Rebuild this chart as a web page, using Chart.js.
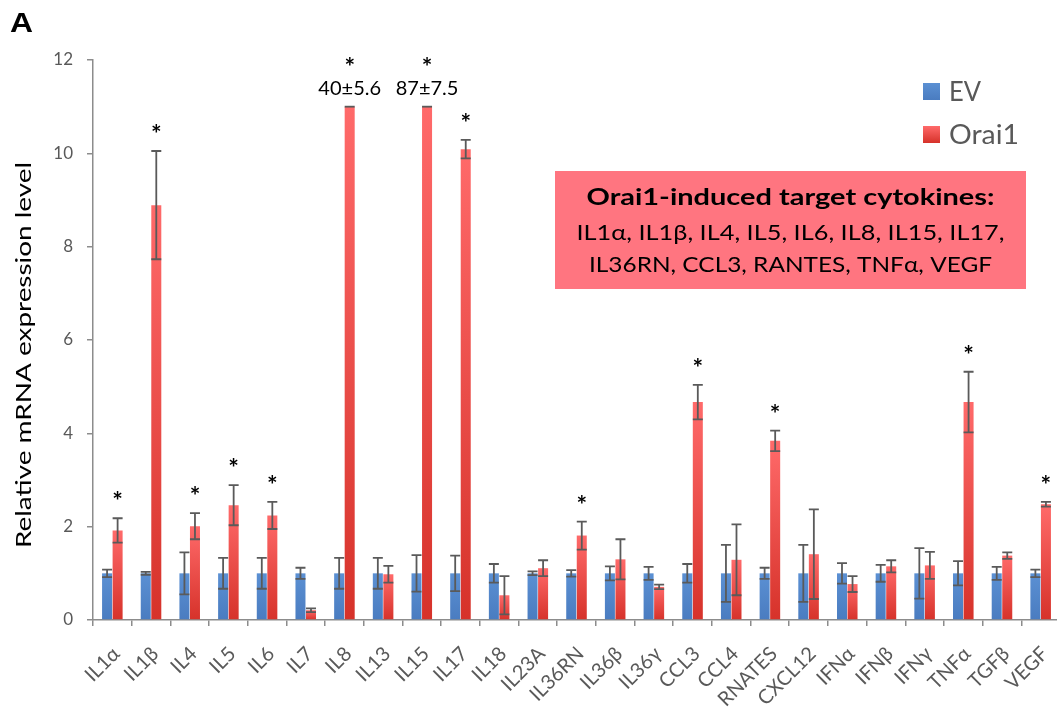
<!DOCTYPE html>
<html>
<head>
<meta charset="utf-8">
<script src="https://cdn.jsdelivr.net/npm/chart.js@4.4.1/dist/chart.umd.min.js"></script>
<style>
  html, body { margin: 0; padding: 0; background: #ffffff; overflow: hidden; }
  #wrap { position: relative; width: 1060px; height: 708px; }
</style>
</head>
<body>
<div id="wrap"><canvas id="chart" width="1060" height="708"></canvas></div>
<script>
// Cytokine panel
const categories = ['IL1α', 'IL1β', 'IL4', 'IL5', 'IL6', 'IL7', 'IL8', 'IL13', 'IL15', 'IL17',
  'IL18', 'IL23A', 'IL36RN', 'IL36β', 'IL36γ', 'CCL3', 'CCL4', 'RNATES', 'CXCL12',
  'IFNα', 'IFNβ', 'IFNγ', 'TNFα', 'TGFβ', 'VEGF'];

// Empty-vector control (normalised to 1) and its error
const evMean = [1, 1, 1, 1, 1, 1, 1, 1, 1, 1, 1, 1, 1, 1, 1, 1, 1, 1, 1, 1, 1, 1, 1, 1, 1];
const evErr = [0.08, 0.03, 0.45, 0.33, 0.33, 0.12, 0.33, 0.33, 0.39, 0.38, 0.20, 0.04, 0.07,
  0.15, 0.14, 0.20, 0.61, 0.12, 0.61, 0.22, 0.18, 0.54, 0.26, 0.14, 0.08];

// Orai1 over-expression and its error
const orai1Mean = [1.92, 8.89, 2.01, 2.46, 2.24, 0.21, 40, 0.98, 87, 10.09, 0.53, 1.11, 1.81,
  1.30, 0.71, 4.67, 1.29, 3.84, 1.41, 0.77, 1.15, 1.17, 4.67, 1.38, 2.48];
const orai1Err = [0.26, 1.16, 0.28, 0.43, 0.29, 0.04, 5.6, 0.18, 7.5, 0.20, 0.41, 0.17, 0.30,
  0.43, 0.05, 0.37, 0.76, 0.22, 0.96, 0.17, 0.13, 0.29, 0.65, 0.07, 0.05];

// Targets marked with an asterisk
const significant = ['IL1α', 'IL1β', 'IL4', 'IL5', 'IL6', 'IL8', 'IL15', 'IL17', 'IL36RN',
  'CCL3', 'RNATES', 'TNFα', 'VEGF'];

// Y axis
const yMin = 0, yMax = 12, yStep = 2;
// Bars taller than this are cut off here and their value is written above them
const axisBreak = 11;

const seriesNames = ['EV', 'Orai1'];
const boxTitle = 'Orai1-induced target cytokines:';
const boxLines = ['IL1α, IL1β, IL4, IL5, IL6, IL8, IL15, IL17,', 'IL36RN, CCL3, RANTES, TNFα, VEGF'];

const FONT = 'Lato, "Open Sans", "Liberation Sans", sans-serif';
const BLUE = ['#5b90d3', '#4a7cc0'];
const RED = ['#ff6a6a', '#d6322a'];

function gradientFill(colors) {
  return (c) => {
    const chart = c.chart;
    if (c.type !== 'data' || !chart.chartArea) return colors[1];
    const y = chart.scales.y;
    const v = c.dataset.data[c.dataIndex];
    const top = y.getPixelForValue(v), bottom = y.getPixelForValue(0);
    if (bottom - top < 1) return colors[1];
    const g = chart.ctx.createLinearGradient(0, top, 0, bottom);
    g.addColorStop(0, colors[0]);
    g.addColorStop(1, colors[1]);
    return g;
  };
}

const clip = (arr) => arr.map(v => Math.min(v, axisBreak));

// Draws text widened or narrowed to a given run length
function fitText(ctx, text, x, y, width) {
  const w = ctx.measureText(text).width;
  ctx.save();
  ctx.translate(x, y);
  ctx.scale(width / w, 1);
  ctx.fillText(text, 0, 0);
  ctx.restore();
}

// Error bars, asterisks, truncated-bar labels, legend, text box, axis title
const overlay = {
  id: 'overlay',
  afterDatasetsDraw(chart) {
    const ctx = chart.ctx;
    const y = chart.scales.y;
    const means = [evMean, orai1Mean];
    const errs = [evErr, orai1Err];
    ctx.save();
    ctx.strokeStyle = '#5a5a5a';
    ctx.lineWidth = 1.8;
    for (let d = 0; d < 2; d++) {
      const meta = chart.getDatasetMeta(d);
      meta.data.forEach((bar, i) => {
        const m = means[d][i], e = errs[d][i];
        const half = 5;
        const x = bar.x;
        ctx.beginPath();
        if (m > axisBreak) {
          const yt = y.getPixelForValue(axisBreak);
          ctx.moveTo(x - half, yt); ctx.lineTo(x + half, yt);
        } else {
          const yt = y.getPixelForValue(m + e), yb = y.getPixelForValue(Math.max(m - e, 0));
          ctx.moveTo(x, yt); ctx.lineTo(x, yb);
          ctx.moveTo(x - half, yt); ctx.lineTo(x + half, yt);
          ctx.moveTo(x - half, yb); ctx.lineTo(x + half, yb);
        }
        ctx.stroke();
      });
    }
    // asterisks and values of truncated bars
    const redMeta = chart.getDatasetMeta(1);
    ctx.fillStyle = '#000';
    ctx.textAlign = 'center';
    ctx.textBaseline = 'middle';
    significant.forEach(name => {
      const i = categories.indexOf(name);
      if (i < 0) return;
      const x = redMeta.data[i].x;
      const m = orai1Mean[i], e = orai1Err[i];
      let starY;
      if (m > axisBreak) {
        const yt = y.getPixelForValue(axisBreak);
        ctx.font = '20px ' + FONT;
        ctx.fillText(m + '±' + e, x, yt - 18);
        starY = yt - 44;
      } else {
        starY = y.getPixelForValue(m + e) - 21;
      }
      ctx.font = 'bold 25px ' + FONT;
      ctx.fillText('*', x, starY + 5);
    });
    ctx.restore();
  },
  afterDraw(chart) {
    const ctx = chart.ctx;
    ctx.save();
    // panel letter
    ctx.fillStyle = '#000';
    ctx.font = 'bold 27px "Liberation Sans", Arial, sans-serif';
    ctx.textAlign = 'left';
    ctx.textBaseline = 'alphabetic';
    fitText(ctx, 'A', 10, 32, 23);

    // y axis title
    ctx.save();
    ctx.translate(24, 355);
    ctx.rotate(-Math.PI / 2);
    ctx.font = '22px ' + FONT;
    ctx.textAlign = 'center';
    ctx.textBaseline = 'middle';
    fitText(ctx, 'Relative mRNA expression level', 0, 0, 386);
    ctx.restore();

    // legend
    const fills = [BLUE, RED];
    const rows = [91, 134];
    const widths = [32, 70];
    ctx.font = '27px ' + FONT;
    ctx.textBaseline = 'middle';
    ctx.textAlign = 'left';
    rows.forEach((cy, k) => {
      const g = ctx.createLinearGradient(0, cy - 8, 0, cy + 9);
      g.addColorStop(0, fills[k][0]); g.addColorStop(1, fills[k][1]);
      ctx.fillStyle = g;
      ctx.fillRect(923, cy - 8, 17, 17);
      ctx.fillStyle = '#595959';
      fitText(ctx, seriesNames[k], 949, cy + 1, widths[k]);
    });

    // annotation box
    ctx.fillStyle = '#ff7580';
    ctx.fillRect(555, 171, 471, 118);
    ctx.fillStyle = '#000';
    ctx.textAlign = 'center';
    ctx.font = 'bold 23px ' + FONT;
    fitText(ctx, boxTitle, 790.5, 198, 408);
    ctx.font = '22px ' + FONT;
    fitText(ctx, boxLines[0], 790.5, 233, 428);
    fitText(ctx, boxLines[1], 790.5, 265, 403);
    ctx.restore();
  }
};

new Chart(document.getElementById('chart'), {
  type: 'bar',
  data: {
    labels: categories,
    datasets: [
      { label: seriesNames[0], data: clip(evMean), backgroundColor: gradientFill(BLUE) },
      { label: seriesNames[1], data: clip(orai1Mean), backgroundColor: gradientFill(RED) }
    ]
  },
  options: {
    responsive: false,
    animation: false,
    devicePixelRatio: 1,
    layout: { padding: { top: 60, left: 0, right: 0, bottom: 0 } },
    datasets: { bar: { categoryPercentage: 0.545, barPercentage: 0.95, borderWidth: 0 } },
    plugins: { legend: { display: false }, tooltip: { enabled: false } },
    scales: {
      x: {
        offset: true,
        afterFit(s) { s.height = 88; s.paddingRight = 0; s.paddingLeft = 0; },
        grid: { offset: true, drawOnChartArea: false, drawTicks: true, tickLength: 6, color: '#8c8c8c', lineWidth: 1.5 },
        border: { display: true, color: '#8c8c8c', width: 1.5 },
        ticks: { maxRotation: 45, minRotation: 45, autoSkip: false, padding: 16, labelOffset: 4, color: '#595959', font: { family: FONT, size: 20 } }
      },
      y: {
        min: yMin, max: yMax,
        afterFit(s) { s.width = 93; },
        grid: { drawOnChartArea: false, drawTicks: true, tickLength: 6, color: '#8c8c8c', lineWidth: 1.5 },
        border: { display: true, color: '#8c8c8c', width: 1.5 },
        ticks: { stepSize: yStep, padding: 14, color: '#595959', font: { family: FONT, size: 17 } }
      }
    }
  },
  plugins: [overlay]
});
</script>
</body>
</html>
